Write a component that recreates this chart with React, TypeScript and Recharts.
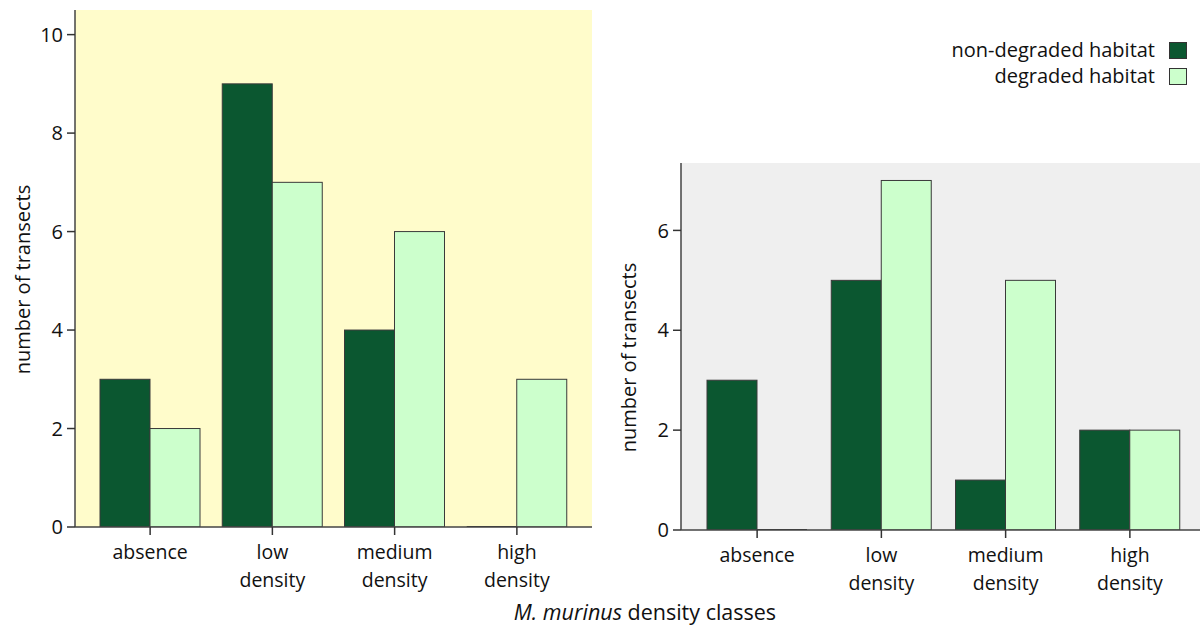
import { BarChart, Bar, XAxis, YAxis, CartesianGrid } from "recharts";

const categories = ["absence", "low density", "medium density", "high density"];
const nonDegradedA = [3, 9, 4, 0];
const degradedA = [2, 7, 6, 3];
const nonDegradedB = [3, 5, 1, 2];
const degradedB = [0, 7, 5, 2];
const ticksA = [0, 2, 4, 6, 8, 10];
const ticksB = [0, 2, 4, 6];

const DARK = "#0b5730";
const LIGHT = "#ccffcc";
const FONT = "'Open Sans', Lato, sans-serif";
const INK = "#111";

const dataA = categories.map((c, i) => ({ name: c, nd: nonDegradedA[i], d: degradedA[i] }));
const dataB = categories.map((c, i) => ({ name: c, nd: nonDegradedB[i], d: degradedB[i] }));

// zero-height bars still show as a flat line on the baseline
const BarShape = (props: any) => {
  const { x, y, width, height, fill } = props;
  if (!height) {
    return <line x1={x} x2={x + width} y1={y} y2={y} stroke="#333" strokeWidth={2} />;
  }
  return <rect x={x} y={y} width={width} height={height} fill={fill} stroke="#3a3a3a" strokeWidth={1} />;
};

const CategoryTick = (props: any) => {
  const { x, y, payload } = props;
  const lines = String(payload.value).split(" ");
  return (
    <text x={x} y={y} textAnchor="middle" fontSize={19.5} fill={INK} fontFamily={FONT}>
      {lines.map((l, i) => (
        <tspan key={i} x={x} dy={i === 0 ? 22 : 28}>
          {l}
        </tspan>
      ))}
    </text>
  );
};

const yLabel = (props: any) => {
  const vb = props.viewBox || {};
  const cx = vb.x + 22;
  const cy = vb.y + vb.height / 2 + 11;
  return (
    <text
      transform={`translate(${cx}, ${cy}) rotate(-90)`}
      textAnchor="middle"
      dominantBaseline="central"
      fontSize={20}
      fill={INK}
      fontFamily={FONT}
    >
      number of transects
    </text>
  );
};

const panelTag = (tag: string) => (props: any) => {
  const vb = props.viewBox || {};
  return (
    <text x={vb.x + 13} y={vb.y + 42} fontSize={20} fontWeight={700} fill={INK} fontFamily={FONT}>
      {tag}
    </text>
  );
};

function Panel({
  data,
  ticks,
  max,
  bg,
  width,
  margin,
  xHeight,
  tag,
}: {
  data: any[];
  ticks: number[];
  max: number;
  bg: string;
  width: number;
  margin: any;
  xHeight: number;
  tag: string;
}) {
  return (
    <BarChart width={width} height={628} data={data} margin={margin} barGap={0} barSize={50}>
      <CartesianGrid horizontal={false} vertical={false} fill={bg} />
      <XAxis
        dataKey="name"
        height={xHeight}
        padding={{ left: 14, right: 14 }}
        tick={<CategoryTick />}
        tickSize={8}
        tickMargin={2}
        axisLine={{ stroke: "#444", strokeWidth: 1.5 }}
        tickLine={{ stroke: "#333", strokeWidth: 1.5 }}
        interval={0}
      />
      <XAxis
        xAxisId="top"
        orientation="top"
        dataKey="name"
        height={0}
        tick={false}
        tickLine={false}
        axisLine={{ stroke: "#888", strokeWidth: 2 }}
        label={panelTag(tag)}
      />
      <YAxis
        width={75}
        domain={[0, max]}
        ticks={ticks}
        allowDataOverflow
        tickSize={8}
        tickMargin={4}
        tick={{ fontSize: 20, fill: INK, fontFamily: FONT }}
        axisLine={{ stroke: "#444", strokeWidth: 1.5 }}
        tickLine={{ stroke: "#333", strokeWidth: 1.5 }}
        label={yLabel}
      />
      <YAxis
        yAxisId="right"
        orientation="right"
        width={0}
        tick={false}
        tickLine={false}
        axisLine={{ stroke: "#777", strokeWidth: 2 }}
      />
      <Bar dataKey="nd" fill={DARK} isAnimationActive={false} shape={<BarShape />} />
      <Bar dataKey="d" fill={LIGHT} isAnimationActive={false} shape={<BarShape />} />
    </BarChart>
  );
}

export default function App() {
  return (
    <div
      style={{
        position: "fixed",
        left: 0,
        top: 0,
        width: 1200,
        height: 628,
        overflow: "hidden",
        background: "#fff",
        fontFamily: FONT,
      }}
    >
      <div style={{ position: "absolute", left: 0, top: 0 }}>
        <Panel
          data={dataA}
          ticks={ticksA}
          max={10.5}
          bg="#fffccb"
          width={600}
          margin={{ top: 10, right: 8, bottom: 0, left: 0 }}
          xHeight={101}
          tag="[a]"
        />
      </div>
      <div style={{ position: "absolute", left: 606, top: 0 }}>
        <Panel
          data={dataB}
          ticks={ticksB}
          max={7.35}
          bg="#efefef"
          width={610}
          margin={{ top: 163, right: 10, bottom: 0, left: 0 }}
          xHeight={98}
          tag="[b]"
        />
      </div>

      {/* legend */}
      <div style={{ position: "absolute", right: 13, top: 37, textAlign: "right", fontSize: 20, color: INK }}>
        {[
          { label: "non-degraded habitat", color: DARK },
          { label: "degraded habitat", color: LIGHT },
        ].map((item) => (
          <div key={item.label} style={{ display: "flex", alignItems: "center", justifyContent: "flex-end", height: 26, lineHeight: "26px" }}>
            <span>{item.label}</span>
            <span
              style={{
                display: "inline-block",
                width: 16,
                height: 15,
                marginLeft: 14,
                background: item.color,
                border: "1px solid #333",
              }}
            />
          </div>
        ))}
      </div>

      <div
        style={{
          position: "absolute",
          left: 645,
          top: 599,
          transform: "translateX(-50%)",
          fontSize: 21.5,
          lineHeight: "26px",
          color: INK,
          whiteSpace: "nowrap",
        }}
      >
        <i>M. murinus</i> density classes
      </div>
    </div>
  );
}
